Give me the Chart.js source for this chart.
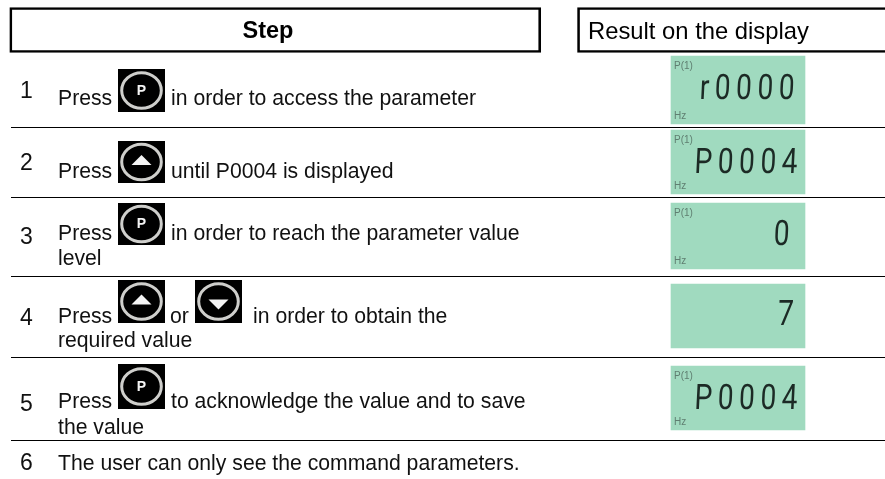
<!DOCTYPE html>
<html>
<head>
<meta charset="utf-8">
<style>html,body{margin:0;padding:0;background:#fff}canvas{display:block}</style>
<script src="https://cdn.jsdelivr.net/npm/chart.js@4/dist/chart.umd.min.js"></script>
</head>
<body>
<canvas id="c" width="885" height="479"></canvas>
<script>
// ---- content ----
const headers = ["Step", "Result on the display"];
const stepNumbers = ["1", "2", "3", "4", "5", "6"];
const stepFirstLines = [
  ["Press", "in order to access the parameter"],
  ["Press", "until P0004 is displayed"],
  ["Press", "in order to reach the parameter value"],
  ["Press", "or", "in order to obtain the"],
  ["Press", "to acknowledge the value and to save"],
  ["The user can only see the command parameters."]
];
const stepSecondLines = ["", "", "level", "required value", "the value", ""];
const stepIcons = [["P"], ["up"], ["P"], ["up", "down"], ["P"], []];
const displayValues = ["r0000", "P0004", "0", "7", "P0004"];
const displayTopLabels = ["P(1)", "P(1)", "P(1)", "", "P(1)"];
const displayBottomLabels = ["Hz", "Hz", "Hz", "", "Hz"];

// ---- layout ----
const rowLines = [127, 197, 276, 357.5, 440];
const numberBase = [98, 170, 244, 325, 411, 470];
const textBase = [105, 178, 240, 323, 408, 470];
const secondBase = [0, 0, 265, 347, 434, 0];
const segX = [[58, 171], [58, 171], [58, 171], [58, 170, 253], [58, 171], [58]];
const iconX = [[141.5], [141.5], [141.5], [141.5, 218.5], [141.5], []];
const iconTop = [69, 141, 203, 280, 364, 0];
const iconBottom = [112, 183, 245, 323, 409, 0];
const lcdTop = [56, 130, 203, 284, 366];
const lcdBottom = [124, 194, 269, 348, 430];
const lcdLeft = 671, lcdRight = 805;
const lcdTextRight = [794, 797, 789, 793, 797];
const lcdBase = [99, 173, 245, 325, 409];
const TEXT = "#111";
const SANS = '"Liberation Sans", Arial, sans-serif';

function makeIcon(kind, h) {
  const cv = document.createElement("canvas");
  cv.width = 47; cv.height = h;
  const g = cv.getContext("2d");
  const cx = 23.5, cy = h / 2;
  g.fillStyle = "#000";
  g.fillRect(0, 0, 47, h);
  g.strokeStyle = "#cfcfcc";
  g.lineWidth = 3;
  g.beginPath();
  g.ellipse(cx, cy, 19.8, 17.8, 0, 0, Math.PI * 2);
  g.stroke();
  g.fillStyle = "#f4f4f4";
  if (kind === "P") {
    g.font = 'bold 14px ' + SANS;
    g.textAlign = "center";
    g.textBaseline = "alphabetic";
    g.fillText("P", cx, cy + 4);
  } else {
    const s = kind === "up" ? 1 : -1;
    const c = cy + (kind === "up" ? -2 : 3);
    g.beginPath();
    g.moveTo(cx - 10, c + 5 * s);
    g.lineTo(cx + 10, c + 5 * s);
    g.lineTo(cx, c - 5 * s);
    g.closePath();
    g.fill();
  }
  return cv;
}

const iconPoints = [], iconStyles = [];
stepIcons.forEach((kinds, r) => kinds.forEach((k, i) => {
  iconPoints.push({ x: iconX[r][i], y: (iconTop[r] + iconBottom[r]) / 2 });
  iconStyles.push(makeIcon(k, Math.round(iconBottom[r] - iconTop[r])));
}));

const lcdBars = displayValues.map((_, i) => ({
  x: (lcdLeft + lcdRight) / 2,
  y: [lcdTop[i], lcdBottom[i]]
}));

const tablePlugin = {
  id: "tableText",
  afterDraw(chart) {
    const { ctx, scales: { x, y } } = chart;
    ctx.save();
    ctx.textBaseline = "alphabetic";
    ctx.textAlign = "left";
    ctx.fillStyle = "#000";
    ctx.font = "bold 23.5px " + SANS;
    ctx.textAlign = "center";
    ctx.fillText(headers[0], x.getPixelForValue(268), y.getPixelForValue(38));
    ctx.textAlign = "left";
    ctx.font = "23.8px " + SANS;
    ctx.fillText(headers[1], x.getPixelForValue(588), y.getPixelForValue(38.5));

    ctx.fillStyle = TEXT;
    stepNumbers.forEach((n, r) => {
      ctx.font = "23px " + SANS;
      ctx.fillText(n, x.getPixelForValue(20), y.getPixelForValue(numberBase[r]));
      ctx.font = "21.2px " + SANS;
      stepFirstLines[r].forEach((t, i) => {
        ctx.fillText(t, x.getPixelForValue(segX[r][i]), y.getPixelForValue(textBase[r]));
      });
      if (stepSecondLines[r]) {
        ctx.fillText(stepSecondLines[r], x.getPixelForValue(58), y.getPixelForValue(secondBase[r]));
      }
    });

    displayValues.forEach((v, i) => {
      const top = lcdTop[i], bottom = lcdBottom[i];
      ctx.fillStyle = "#5f7f71";
      ctx.font = '10px "Liberation Sans Narrow", "Liberation Sans", sans-serif';
      ctx.textAlign = "left";
      if (displayTopLabels[i]) ctx.fillText(displayTopLabels[i], x.getPixelForValue(674), y.getPixelForValue(top + 13));
      if (displayBottomLabels[i]) ctx.fillText(displayBottomLabels[i], x.getPixelForValue(674), y.getPixelForValue(bottom - 5));

      ctx.save();
      ctx.fillStyle = "#1c2a25";
      ctx.translate(x.getPixelForValue(lcdTextRight[i]), y.getPixelForValue(lcdBase[i]));
      ctx.transform(0.8, 0, -0.05, 1, 0, 0);
      ctx.font = '35px Roboto, "Liberation Sans", sans-serif';
      ctx.letterSpacing = "7px";
      ctx.textAlign = "right";
      ctx.fillText(v, 7, 0);
      ctx.restore();
    });
    ctx.restore();
  }
};

new Chart(document.getElementById("c"), {
  data: {
    datasets: [
      { type: "bar", data: [{ x: 275.25, y: [7.5, 52.5] }], barThickness: 531,
        backgroundColor: "rgba(0,0,0,0)", borderColor: "#000", borderWidth: 2, borderSkipped: false, clip: false },
      { type: "bar", data: [{ x: 739, y: [7.5, 52.5] }], barThickness: 323,
        backgroundColor: "rgba(0,0,0,0)", borderColor: "#000", borderWidth: 2, borderSkipped: false, clip: false },
      { type: "bar", data: lcdBars, barThickness: lcdRight - lcdLeft,
        backgroundColor: "#a0dabf", borderWidth: 0, borderSkipped: false, clip: false },
      { type: "scatter", data: iconPoints, pointStyle: iconStyles, pointRadius: 20, clip: false, showLine: false }
    ]
  },
  options: {
    responsive: false,
    animation: false,
    layout: { autoPadding: false, padding: { left: 11, right: 0, top: 0, bottom: 0 } },
    plugins: { legend: { display: false }, tooltip: { enabled: false }, title: { display: false } },
    datasets: { bar: { grouped: false } },
    scales: {
      x: { type: "linear", min: 11, max: 885, display: false, offset: false },
      y: {
        type: "linear", min: 0, max: 479, reverse: true, display: true,
        afterBuildTicks(scale) { scale.ticks = rowLines.map(value => ({ value })); },
        ticks: { display: false, padding: 0 },
        border: { display: false },
        grid: { color: "#000", lineWidth: 1, drawTicks: false, tickLength: 0 },
        afterFit(scale) { scale.width = 0; }
      }
    }
  },
  plugins: [tablePlugin]
});
</script>
</body>
</html>
